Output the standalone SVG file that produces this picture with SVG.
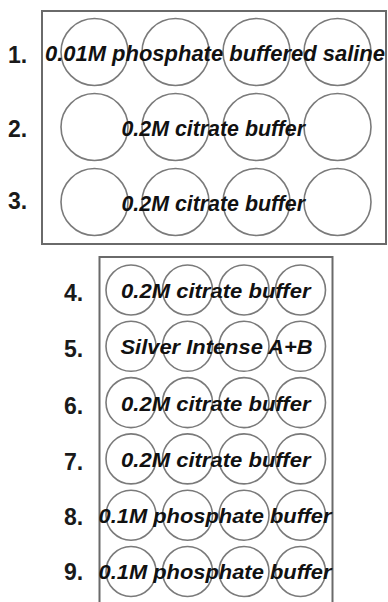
<svg xmlns="http://www.w3.org/2000/svg" width="388" height="602" viewBox="0 0 388 602">
<style>
.plate{fill:#fff;stroke:#6a6a6a;stroke-width:2}
.well{fill:none;stroke:#7a7a7a;stroke-width:1.6}
.lbl{font-family:"Liberation Sans",Arial,sans-serif;font-weight:bold;font-size:23px;fill:#1a1a1a}
.t{font-family:"Liberation Sans",Arial,sans-serif;font-weight:bold;font-style:italic;font-size:20.5px;fill:#111}
.tt{font-size:21.5px}
</style>
<rect width="388" height="602" fill="#fff"/>
<g id="plate-top">
<rect class="plate" x="42" y="11" width="344" height="233"/>
</g>
<g id="row1">
<circle class="well" cx="94.5" cy="52" r="33.5"/><circle class="well" cx="175.5" cy="52" r="33.5"/><circle class="well" cx="256.5" cy="52" r="33.5"/><circle class="well" cx="337.5" cy="52" r="33.5"/>
<text class="lbl" x="8" y="63">1.</text>
<text class="t tt" x="45" y="60.5" textLength="340" lengthAdjust="spacingAndGlyphs">0.01M phosphate buffered saline</text>
</g>
<g id="row2">
<circle class="well" cx="94.5" cy="127" r="33.5"/><circle class="well" cx="175.5" cy="127" r="33.5"/><circle class="well" cx="256.5" cy="127" r="33.5"/><circle class="well" cx="337.5" cy="127" r="33.5"/>
<text class="lbl" x="8" y="137">2.</text>
<text class="t tt" x="121.5" y="135.5" textLength="183.5" lengthAdjust="spacingAndGlyphs">0.2M citrate buffer</text>
</g>
<g id="row3">
<circle class="well" cx="94.5" cy="202" r="33.5"/><circle class="well" cx="175.5" cy="202" r="33.5"/><circle class="well" cx="256.5" cy="202" r="33.5"/><circle class="well" cx="337.5" cy="202" r="33.5"/>
<text class="lbl" x="8" y="209">3.</text>
<text class="t tt" x="121.5" y="210.5" textLength="183.5" lengthAdjust="spacingAndGlyphs">0.2M citrate buffer</text>
</g>
<g id="plate-bottom">
<rect class="plate" x="99.5" y="257" width="233" height="360"/>
</g>
<g id="row4">
<circle class="well" cx="131" cy="290" r="25"/><circle class="well" cx="187.5" cy="290" r="25"/><circle class="well" cx="244" cy="290" r="25"/><circle class="well" cx="300.5" cy="290" r="25"/>
<text class="lbl" x="64" y="301">4.</text>
<text class="t" x="121" y="298" textLength="189.5" lengthAdjust="spacingAndGlyphs">0.2M citrate buffer</text>
</g>
<g id="row5">
<circle class="well" cx="131" cy="346.3" r="25"/><circle class="well" cx="187.5" cy="346.3" r="25"/><circle class="well" cx="244" cy="346.3" r="25"/><circle class="well" cx="300.5" cy="346.3" r="25"/>
<text class="lbl" x="64" y="357">5.</text>
<text class="t" x="120.5" y="354" textLength="192" lengthAdjust="spacingAndGlyphs">Silver Intense A+B</text>
</g>
<g id="row6">
<circle class="well" cx="131" cy="402.6" r="25"/><circle class="well" cx="187.5" cy="402.6" r="25"/><circle class="well" cx="244" cy="402.6" r="25"/><circle class="well" cx="300.5" cy="402.6" r="25"/>
<text class="lbl" x="64" y="413.5">6.</text>
<text class="t" x="121" y="410.5" textLength="189.5" lengthAdjust="spacingAndGlyphs">0.2M citrate buffer</text>
</g>
<g id="row7">
<circle class="well" cx="131" cy="458.9" r="25"/><circle class="well" cx="187.5" cy="458.9" r="25"/><circle class="well" cx="244" cy="458.9" r="25"/><circle class="well" cx="300.5" cy="458.9" r="25"/>
<text class="lbl" x="64" y="469.5">7.</text>
<text class="t" x="121" y="466.5" textLength="189.5" lengthAdjust="spacingAndGlyphs">0.2M citrate buffer</text>
</g>
<g id="row8">
<circle class="well" cx="131" cy="515.2" r="25"/><circle class="well" cx="187.5" cy="515.2" r="25"/><circle class="well" cx="244" cy="515.2" r="25"/><circle class="well" cx="300.5" cy="515.2" r="25"/>
<text class="lbl" x="64" y="525">8.</text>
<text class="t" x="98.5" y="522.5" textLength="233" lengthAdjust="spacingAndGlyphs">0.1M phosphate buffer</text>
</g>
<g id="row9">
<circle class="well" cx="131" cy="571.5" r="25"/><circle class="well" cx="187.5" cy="571.5" r="25"/><circle class="well" cx="244" cy="571.5" r="25"/><circle class="well" cx="300.5" cy="571.5" r="25"/>
<text class="lbl" x="64" y="580">9.</text>
<text class="t" x="98.5" y="578.5" textLength="233" lengthAdjust="spacingAndGlyphs">0.1M phosphate buffer</text>
</g>
</svg>
